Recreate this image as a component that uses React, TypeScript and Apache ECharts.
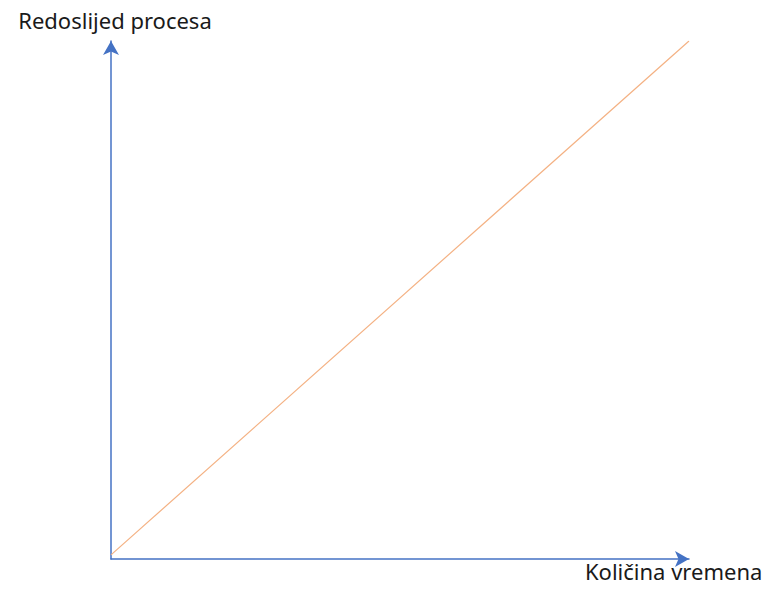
import React, { useEffect, useRef } from "react";
import * as echarts from "echarts";

const xName = "Količina vremena";
const yName = "Redoslijed procesa";
const lineX = [0, 1];
const lineY = [0.008, 1];

export default function App() {
  const ref = useRef<HTMLDivElement>(null);
  useEffect(() => {
    if (!ref.current) return;
    const chart = echarts.init(ref.current, undefined, { renderer: "svg" });
    const axisColor = "#4472C4";
    chart.setOption({
      animation: false,
      backgroundColor: "#ffffff",
      textStyle: { fontFamily: "Noto Sans" },
      grid: { left: 111, right: 80, top: 41, bottom: 31 },
      xAxis: {
        type: "value",
        min: 0,
        max: 1,
        name: xName,
        nameLocation: "end",
        nameGap: -104,
        nameTextStyle: {
          color: "#1a1a1a",
          fontSize: 22,
          fontFamily: "Noto Sans",
          align: "left",
          verticalAlign: "top",
          padding: [1, 0, 0, 0],
        },
        axisLine: {
          show: true,
          symbol: ["none", "arrow"],
          symbolSize: [12, 14],
          lineStyle: { color: axisColor, width: 1.5 },
        },
        axisTick: { show: false },
        axisLabel: { show: false },
        splitLine: { show: false },
      },
      yAxis: {
        type: "value",
        min: 0,
        max: 1,
        name: yName,
        nameLocation: "end",
        nameGap: 10,
        nameTextStyle: {
          color: "#1a1a1a",
          fontSize: 22,
          fontFamily: "Noto Sans",
          padding: [0, 0, 0, 8],
        },
        axisLine: {
          show: true,
          symbol: ["none", "arrow"],
          symbolSize: [12, 14],
          lineStyle: { color: axisColor, width: 1.5 },
        },
        axisTick: { show: false },
        axisLabel: { show: false },
        splitLine: { show: false },
      },
      series: [
        {
          type: "line",
          data: lineX.map((x, i) => [x, lineY[i]]),
          symbol: "none",
          lineStyle: { color: "#F4B183", width: 1.2 },
        },
      ],
    });
    return () => chart.dispose();
  }, []);
  return (
    <div
      ref={ref}
      style={{ position: "absolute", left: 0, top: 0, width: 769, height: 590 }}
    />
  );
}
